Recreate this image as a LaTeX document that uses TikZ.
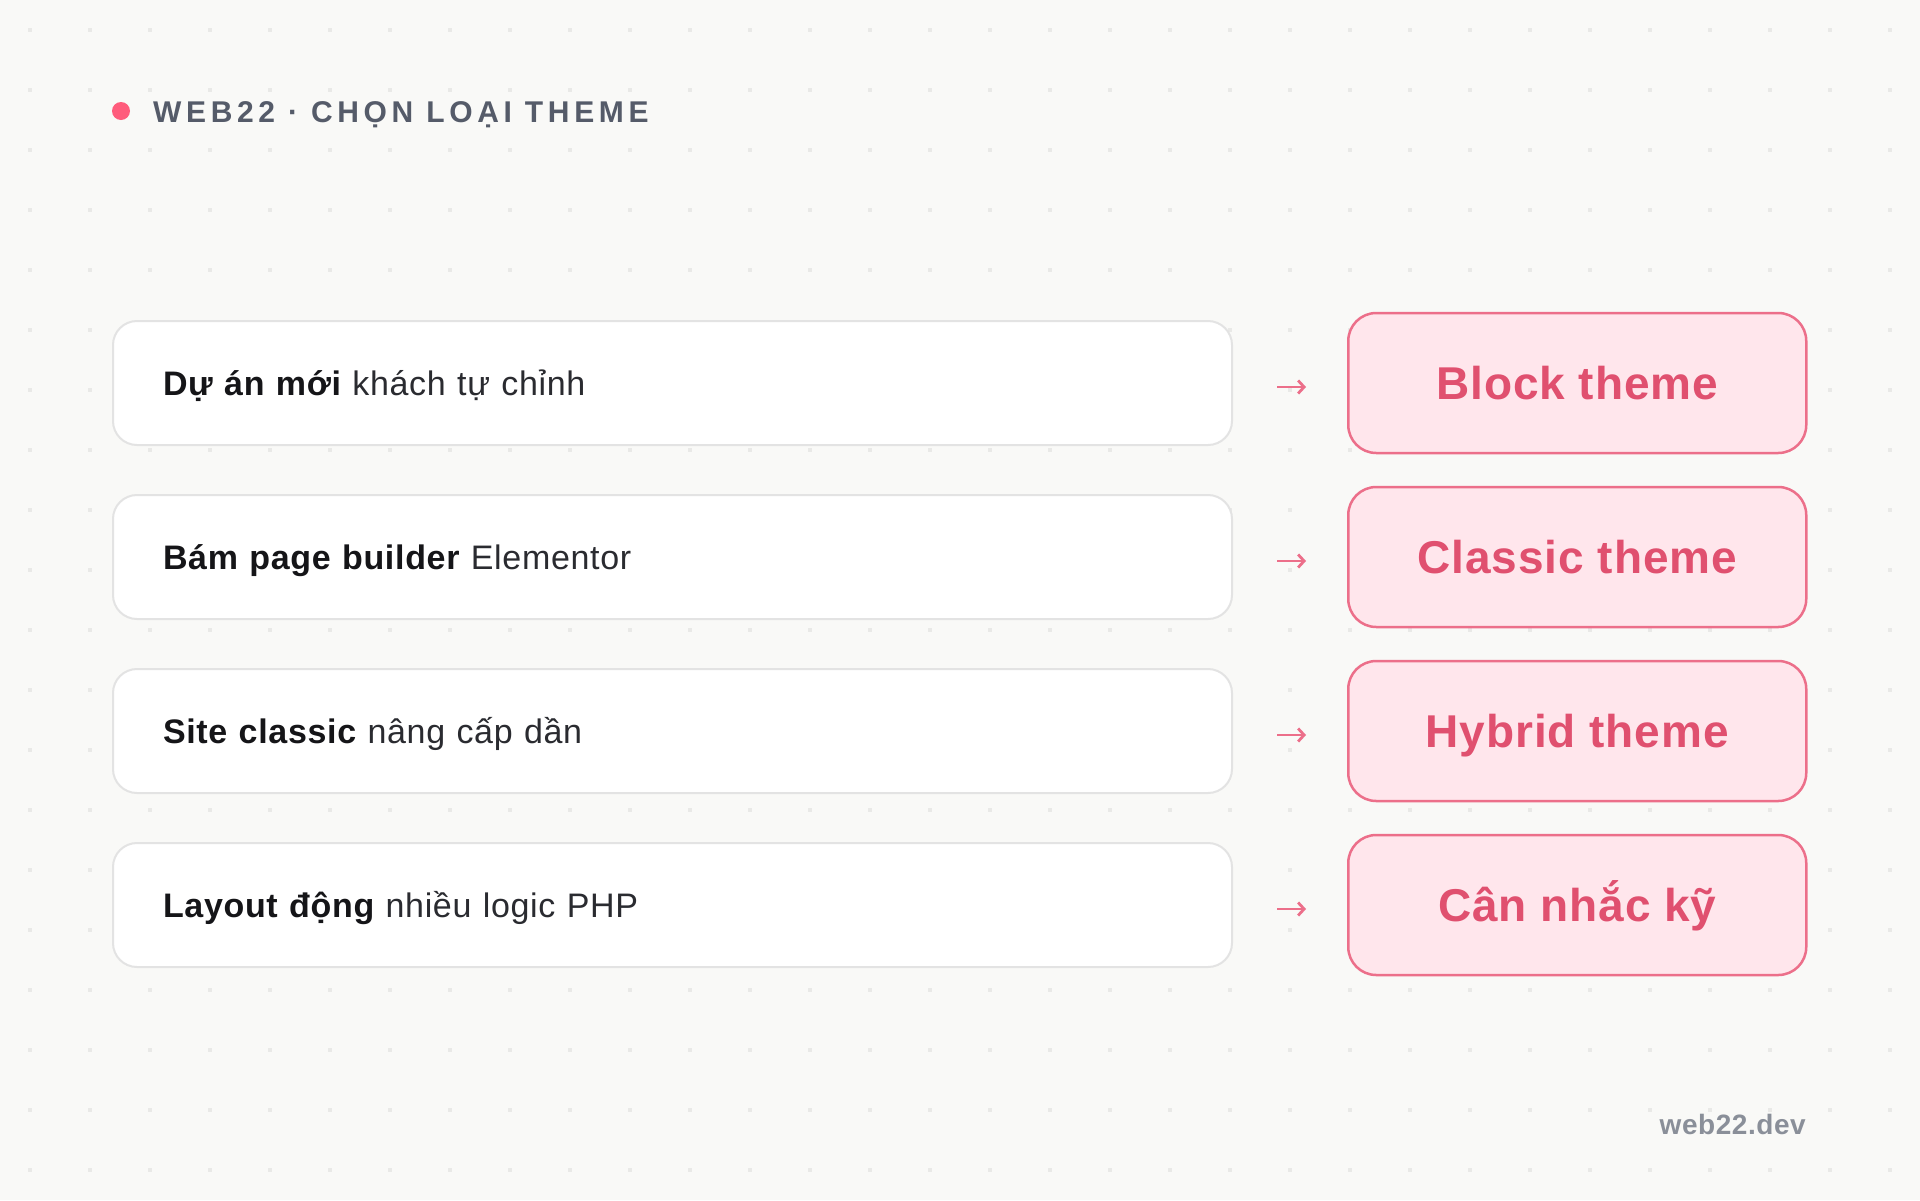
\documentclass[tikz,border=0pt]{standalone}
\usepackage{fontspec}
\setmainfont{Liberation Sans}[LetterSpace=2]
\newfontfamily\trackfont[LetterSpace=15.5]{Liberation Sans}
\usetikzlibrary{arrows.meta,positioning}
\definecolor{paper}{HTML}{F9F9F7}
\definecolor{dotgrey}{HTML}{E9E9E7}
\definecolor{edgegrey}{HTML}{E3E3E3}
\definecolor{inkdark}{HTML}{151518}
\definecolor{inkmid}{HTML}{2A2B30}
\definecolor{slate}{HTML}{555B69}
\definecolor{footgrey}{HTML}{8A8F99}
\definecolor{rosefill}{HTML}{FFE6EC}
\definecolor{roseedge}{HTML}{EC6F8A}
\definecolor{roseink}{HTML}{E0506F}
\definecolor{rosedot}{HTML}{FF5C7C}
\tikzset{
  x=1pt, y=-1pt,
  grid_dot/.style = {fill=dotgrey},
  case_n/.style = {draw=edgegrey, line width=2pt, fill=white, rounded corners=24pt,
    minimum width=1119pt, minimum height=124pt, inner xsep=50pt, inner ysep=0pt,
    text width=1019pt, align=left, text=inkmid,
    font=\fontsize{34}{40}\selectfont, text height=24pt, text depth=0pt},
  pick_r/.style = {draw=roseedge, line width=2.5pt, fill=rosefill, rounded corners=28pt,
    minimum width=458pt, minimum height=140pt, inner sep=0pt, text=roseink,
    font=\fontsize{46}{54}\selectfont\bfseries, text height=33pt, text depth=0pt},
  arw/.style = {draw=roseedge, line width=2.8pt, -{Straight Barb[length=6pt,width=13pt]}}
}
\begin{document}
\begin{tikzpicture}
\useasboundingbox (0,0) rectangle (1920,1200);
\fill[paper] (0,0) rectangle (1920,1200);
% dotted backdrop
\foreach \i in {0,...,31}
  \foreach \j in {0,...,19}
    \fill[grid_dot] ({28+60*\i},{28+60*\j}) rectangle ++(4,4);

% header
\fill[rosedot] (121,111) circle (9);
\node [anchor=west, inner sep=0pt, text=slate, text height=22pt, text depth=0pt,
  font=\fontsize{30}{36}\trackfont\bfseries] (title) at (153,111) {WEB22 · CHỌN LOẠI THEME};

% left column
\node [case_n] (c1) at (672.5,383) {{\color{inkdark}\bfseries Dự án mới} khách tự chỉnh};
\node [case_n, below=48pt of c1] (c2) {{\color{inkdark}\bfseries Bám page builder} Elementor};
\node [case_n, below=48pt of c2] (c3) {{\color{inkdark}\bfseries Site classic} nâng cấp dần};
\node [case_n, below=48pt of c3] (c4) {{\color{inkdark}\bfseries Layout động} nhiều logic PHP};

% right column
\node [pick_r, right=114pt of c1] (t1) {Block theme};
\node [pick_r, right=114pt of c2] (t2) {Classic theme};
\node [pick_r, right=114pt of c3] (t3) {Hybrid theme};
\node [pick_r, right=114pt of c4] (t4) {Cân nhắc kỹ};

\draw[arw] ([xshift=44pt,yshift=-4pt]c1.east) -- ([xshift=-41pt,yshift=-4pt]t1.west);
\draw[arw] ([xshift=44pt,yshift=-4pt]c2.east) -- ([xshift=-41pt,yshift=-4pt]t2.west);
\draw[arw] ([xshift=44pt,yshift=-4pt]c3.east) -- ([xshift=-41pt,yshift=-4pt]t3.west);
\draw[arw] ([xshift=44pt,yshift=-4pt]c4.east) -- ([xshift=-41pt,yshift=-4pt]t4.west);

% footer
\node [anchor=base east, inner sep=0pt, text=footgrey, font=\fontsize{28}{32}\selectfont\bfseries]
  (site) at (1806,1134) {web22.dev};
\end{tikzpicture}
\end{document}
